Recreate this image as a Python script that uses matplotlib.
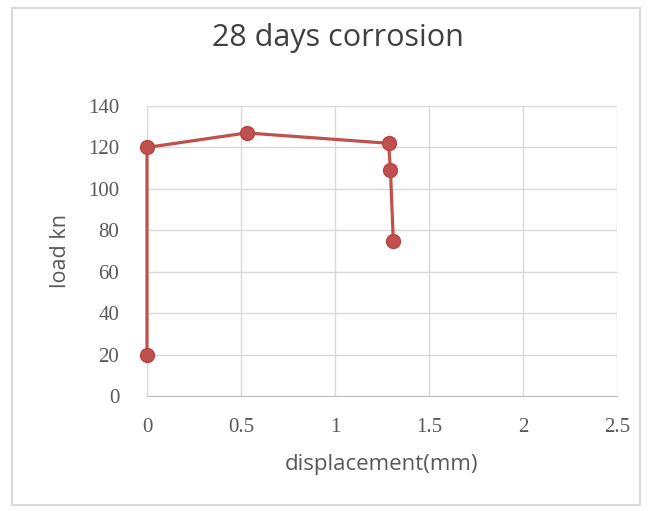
import matplotlib
matplotlib.use("Agg")
import matplotlib.pyplot as plt
from matplotlib.patches import Rectangle

displacement = [0, 0, 0.53, 1.285, 1.295, 1.31]
load = [20, 120, 127, 122, 109, 75]
x_ticks = [0, 0.5, 1, 1.5, 2, 2.5]
x_tick_labels = ["0", "0.5", "1", "1.5", "2", "2.5"]
y_ticks = [0, 20, 40, 60, 80, 100, 120, 140]

fig = plt.figure(figsize=(6.51, 5.11), dpi=100)
fig.patches.append(Rectangle((12/651, 1-505/511), 628/651, 497/511, transform=fig.transFigure,
                             fill=False, edgecolor="#d9d9d9", linewidth=1.5))
ax = fig.add_axes([147/651, 1-396/511, 470/651, 290/511])
ax.plot(displacement, load, color="#c0504d", linewidth=2.3, marker="o", markersize=10,
        markerfacecolor="#c0504d", markeredgecolor="#b84440", zorder=3, clip_on=False)
ax.set_xlim(0, 2.5)
ax.set_ylim(0, 140)
ax.set_xticks(x_ticks)
ax.set_xticklabels(x_tick_labels)
ax.set_yticks(y_ticks)
ax.grid(True, color="#d9d9d9", linewidth=1)
ax.set_axisbelow(True)
for s in ["top", "right"]:
    ax.spines[s].set_visible(False)
ax.spines["left"].set_color("#d9d9d9")
ax.spines["bottom"].set_color("#bfbfbf")
ax.tick_params(axis="x", length=0, pad=16, labelsize=15, labelcolor="#595959")
ax.tick_params(axis="y", length=0, pad=20, labelsize=15, labelcolor="#595959")
for lab in ax.get_xticklabels() + ax.get_yticklabels():
    lab.set_fontfamily("Liberation Serif")
ax.set_xlabel("displacement(mm)", fontsize=16, color="#595959", family="Open Sans", labelpad=12)
ax.set_ylabel("load kn", fontsize=15.5, color="#595959", family="Open Sans", labelpad=12)
fig.text(338/651, 1-38/511, "28 days corrosion", ha="center", va="center", fontsize=22,
         color="#404040", family="Open Sans")
fig.savefig("out.png", dpi=100)
